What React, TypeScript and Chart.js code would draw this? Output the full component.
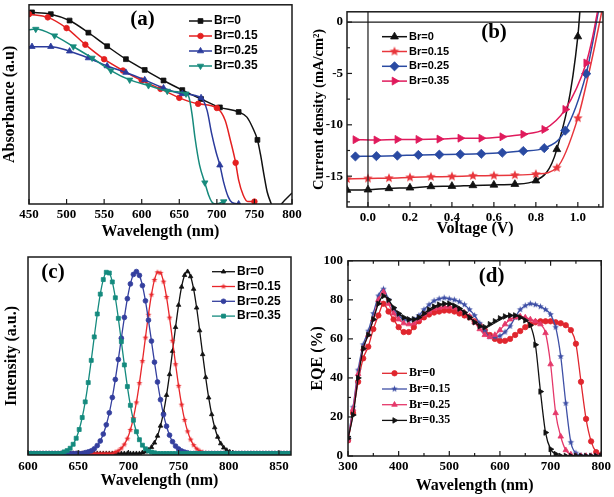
import React, { useEffect, useRef } from 'react';
import { Chart, registerables } from 'chart.js';
import { drawPoint } from 'chart.js/helpers';

Chart.register(...registerables);

const SERIF = '"Liberation Serif", "Times New Roman", serif';
const SANS = '"Liberation Sans", Arial, sans-serif';

const seriesLabels = ['Br=0', 'Br=0.15', 'Br=0.25', 'Br=0.35'];

// ---------- (a) Absorbance ----------
const absX_Br0 = [450, 454, 479, 504, 529, 554, 579, 604, 629, 654, 679, 704, 729, 740, 748, 754, 758, 763, 767, 772, 776, 782, 786, 800];
const absY_Br0 = [0.963, 0.962, 0.953, 0.921, 0.86, 0.792, 0.727, 0.673, 0.62, 0.572, 0.527, 0.485, 0.462, 0.436, 0.38, 0.322, 0.25, 0.14, 0.06, 0.005, -0.025, -0.025, 0.0, 0.055];
const absX_Br15 = [450, 475, 500, 525, 550, 575, 600, 625, 650, 675, 700, 711, 718, 725, 729, 735, 741, 750];
const absY_Br15 = [0.953, 0.937, 0.883, 0.8, 0.727, 0.67, 0.62, 0.578, 0.533, 0.503, 0.482, 0.42, 0.32, 0.207, 0.12, 0.045, 0.012, 0.012];
const absX_Br25 = [450, 454, 479, 504, 529, 554, 579, 604, 629, 654, 679, 687, 693, 699, 704, 709, 715, 720, 729];
const absY_Br25 = [0.79, 0.79, 0.79, 0.767, 0.733, 0.693, 0.66, 0.623, 0.582, 0.553, 0.533, 0.47, 0.355, 0.26, 0.195, 0.11, 0.037, 0.008, 0.0];
const absX_Br35 = [450, 459, 484, 509, 534, 559, 584, 609, 634, 659, 663, 667, 671, 677, 684, 689, 693, 698, 709, 713];
const absY_Br35 = [0.875, 0.878, 0.845, 0.79, 0.733, 0.67, 0.623, 0.595, 0.567, 0.553, 0.535, 0.45, 0.33, 0.195, 0.107, 0.045, 0.012, 0.0, 0.012, 0.02];
const absXTicks = [450, 500, 550, 600, 650, 700, 750, 800];

// ---------- (b) J-V ----------
const jvX_Br0 = [-0.1, 0, 0.1, 0.2, 0.3, 0.4, 0.5, 0.6, 0.7, 0.8, 0.9, 1.0, 1.02];
const jvY_Br0 = [-16.35, -16.32, -16.19, -16.13, -16.0, -15.97, -15.9, -15.85, -15.78, -15.44, -12.39, -1.41, 4];
const jvX_Br15 = [-0.1, 0, 0.1, 0.2, 0.3, 0.4, 0.5, 0.6, 0.7, 0.8, 0.9, 1.0, 1.05, 1.08, 1.11, 1.13];
const jvY_Br15 = [-15.28, -15.22, -15.19, -15.12, -15.06, -15.03, -14.97, -14.94, -14.9, -14.8, -14.18, -9.35, -5.2, -2.4, 0.6, 2.6];
const jvX_Br25 = [-0.06, 0.04, 0.14, 0.24, 0.34, 0.44, 0.54, 0.64, 0.74, 0.84, 0.94, 1.04, 1.07, 1.095, 1.12];
const jvY_Br25 = [-13.08, -13.05, -13.0, -12.93, -12.9, -12.87, -12.82, -12.72, -12.55, -12.27, -10.57, -5.02, -2.1, 0.7, 3.5];
const jvX_Br35 = [-0.06, 0.04, 0.14, 0.24, 0.34, 0.44, 0.54, 0.64, 0.74, 0.84, 0.94, 1.04, 1.07, 1.09, 1.11];
const jvY_Br35 = [-11.45, -11.48, -11.42, -11.42, -11.39, -11.3, -11.3, -11.17, -10.92, -10.45, -8.5, -3.98, -1.5, 0.6, 2.8];
const jvXTicks = [0, 0.2, 0.4, 0.6, 0.8, 1.0];
const jvYTicks = [-15, -10, -5, 0];

// ---------- (c) PL ----------
const plX = [
  600, 603, 606, 609, 612, 615, 618, 621, 624, 627,
  630, 633, 636, 639, 642, 645, 648, 651, 654, 657,
  660, 663, 666, 669, 672, 675, 678, 681, 684, 687,
  690, 693, 696, 699, 702, 705, 708, 711, 714, 717,
  720, 723, 726, 729, 732, 735, 738, 741, 744, 747,
  750, 753, 756, 759, 762, 765, 768, 771, 774, 777,
  780, 783, 786, 789, 792, 795, 798, 801, 804, 807,
  810, 813, 816, 819, 822, 825, 828, 831, 834, 837,
  840, 843, 846, 849, 852, 855, 858, 861,
];
const plY_Br0 = [
  0, 0, 0, 0, 0, 0, 0, 0, 0, 0,
  0, 0, 0, 0, 0, 0, 0, 0, 0, 0,
  0, 0, 0, 0, 0, 0, 0, 0, 0, 0,
  0, 0, 0, 0, 0, 0, 0, 0, 0.005, 0.01,
  0.019, 0.035, 0.059, 0.097, 0.152, 0.226, 0.321, 0.435, 0.563, 0.694,
  0.816, 0.916, 0.98, 1.0, 0.973, 0.904, 0.801, 0.676, 0.545, 0.419,
  0.307, 0.215, 0.143, 0.091, 0.055, 0.032, 0.018, 0.009, 0.005, 0,
  0, 0, 0, 0, 0, 0, 0, 0, 0, 0,
  0, 0, 0, 0, 0, 0, 0, 0,
];
const plY_Br15 = [
  0, 0, 0, 0, 0, 0, 0, 0, 0, 0,
  0, 0, 0, 0, 0, 0, 0, 0, 0, 0,
  0, 0, 0, 0, 0, 0, 0, 0, 0, 0.008,
  0.016, 0.029, 0.05, 0.082, 0.13, 0.195, 0.281, 0.387, 0.508, 0.637,
  0.763, 0.873, 0.954, 0.996, 0.993, 0.945, 0.86, 0.747, 0.62, 0.491,
  0.372, 0.269, 0.185, 0.122, 0.077, 0.046, 0.027, 0.015, 0.008, 0.004,
  0, 0, 0, 0, 0, 0, 0, 0, 0, 0,
  0, 0, 0, 0, 0, 0, 0, 0, 0, 0,
  0, 0, 0, 0, 0, 0, 0, 0,
];
const plY_Br25 = [
  0, 0, 0, 0, 0, 0, 0, 0, 0, 0,
  0, 0, 0, 0, 0, 0, 0, 0, 0, 0.005,
  0.009, 0.015, 0.026, 0.044, 0.069, 0.107, 0.158, 0.224, 0.308, 0.407,
  0.517, 0.634, 0.748, 0.851, 0.932, 0.984, 1.0, 0.979, 0.923, 0.839,
  0.733, 0.618, 0.502, 0.393, 0.296, 0.214, 0.15, 0.101, 0.065, 0.041,
  0.025, 0.014, 0.008, 0.004, 0, 0, 0, 0, 0, 0,
  0, 0, 0, 0, 0, 0, 0, 0, 0, 0,
  0, 0, 0, 0, 0, 0, 0, 0, 0, 0,
  0, 0, 0, 0, 0, 0, 0, 0,
];
const plY_Br35 = [
  0, 0, 0, 0, 0, 0, 0, 0, 0, 0,
  0, 0, 0.009, 0.016, 0.029, 0.051, 0.084, 0.132, 0.198, 0.284,
  0.39, 0.512, 0.641, 0.767, 0.876, 0.956, 0.996, 0.992, 0.943, 0.856,
  0.743, 0.615, 0.487, 0.368, 0.265, 0.183, 0.12, 0.076, 0.046, 0.026,
  0.014, 0.008, 0.004, 0, 0, 0, 0, 0, 0, 0,
  0, 0, 0, 0, 0, 0, 0, 0, 0, 0,
  0, 0, 0, 0, 0, 0, 0, 0, 0, 0,
  0, 0, 0, 0, 0, 0, 0, 0, 0, 0,
  0, 0, 0, 0, 0, 0, 0, 0,
];
const plXTicks = [600, 650, 700, 750, 800, 850];

// ---------- (d) EQE ----------
const eqeX = [
  300, 310, 320, 330, 340, 350, 360, 370, 380, 390,
  400, 410, 420, 430, 440, 450, 460, 470, 480, 490,
  500, 510, 520, 530, 540, 550, 560, 570, 580, 590,
  600, 610, 620, 630, 640, 650, 660, 670, 680, 690,
  700, 710, 720, 730, 740, 750, 760, 770, 780, 790,
  800,
];
const eqe_Br0 = [
  8, 22, 38, 50, 56, 65, 72, 78, 74, 70,
  66, 63.5, 63.5, 66, 69, 71, 72.5, 73.5, 74, 74.5,
  74.5, 74, 73, 72, 71, 69, 67, 64.5, 62, 60,
  59, 59, 60, 62, 64, 66, 67.5, 68.5, 69, 69,
  69, 68.5, 68, 67, 64.5, 57.5, 38, 19, 7.5, 2,
  0.5,
];
const eqe_Br15 = [
  9, 25, 44, 57, 64, 73, 82, 85.5, 80, 75,
  72, 70, 69.5, 70, 72, 75, 77.5, 79.5, 80.5, 81,
  80.5, 80, 79, 77.5, 75, 72, 68, 64, 61, 61,
  61.5, 63.5, 66.5, 71, 75, 77, 78, 77.5, 76.5, 75,
  72.5, 66, 51, 27, 7, 1.5, 0.3, 0, 0, 0,
  0,
];
const eqe_Br25 = [
  8, 24, 42, 55, 62, 70, 80, 84, 78, 73,
  70, 68, 67.5, 68, 70, 72.5, 74, 75.5, 76, 76.5,
  76.5, 76, 75, 73.5, 71.5, 68.5, 65, 62, 61, 62,
  64.5, 67.5, 70, 71, 71.5, 71, 70, 69, 67.5, 63,
  47, 22, 10, 3, 0.8, 0, 0, 0, 0, 0,
  0,
];
const eqe_Br35 = [
  9, 21, 40, 55, 62, 70, 78, 82, 80, 76,
  73, 71, 70, 70, 71, 73, 75, 76.5, 77.5, 78,
  78, 77, 75.5, 73.5, 71, 68.5, 66.5, 66, 67.5, 69,
  70.5, 71.5, 72, 72, 71, 69.5, 67, 57, 33, 12,
  3.5, 1, 0, 0, 0, 0, 0, 0, 0, 0,
  0,
];
const eqeXTicks = [300, 400, 500, 600, 700, 800];
const eqeYTicks = [0, 20, 40, 60, 80, 100];

// ---------- helpers ----------
const onGrid = (x: number, start: number, step: number) => {
  const k = (x - start) / step;
  return Math.abs(k - Math.round(k)) < 1e-4;
};

function starCanvas(color: string, r: number) {
  const s = Math.ceil(r * 2 + 2);
  const c = document.createElement('canvas');
  c.width = s;
  c.height = s;
  const g = c.getContext('2d')!;
  g.translate(s / 2, s / 2);
  g.beginPath();
  for (let k = 0; k < 10; k++) {
    const rad = k % 2 === 0 ? r : r * 0.45;
    const a = -Math.PI / 2 + (k * Math.PI) / 5;
    g.lineTo(rad * Math.cos(a), rad * Math.sin(a));
  }
  g.closePath();
  g.fillStyle = color;
  g.fill();
  return c;
}

type Series = {
  xs: number[];
  ys: number[];
  color: string;
  style: any;
  rot?: number;
  r: number;
  grid?: [number, number];
};

type Panel = {
  box: [number, number, number, number];
  area: [number, number, number, number];
  x: { min: number; max: number; ticks: number[]; fmt?: (v: number) => string; title: string; pad: number };
  y: { min: number; max: number; ticks: number[]; title: string; titleSize: number; pad: number };
  series: Series[];
  lineWidth: number;
  marks: { bottom?: [number[], number[]]; left?: [number[], number[]]; top?: [number[], number[]] };
  zero?: boolean;
  legend: { x: number; y: number; dy: number; len: number; font: string; gap: number };
  tag: { text: string; x: number; y: number };
};

const boxes: [number, number, number, number][] = [
  [0, 0, 307, 241],
  [311, 0, 303, 238],
  [2, 250, 305, 240],
  [308, 248, 306, 247],
];

const decoPlugin = {
  id: 'deco',
  afterDatasetsDraw(chart: any, _args: any, o: any) {
    const { ctx, chartArea: a, scales } = chart;
    const xs = scales.x;
    const ys = scales.y;
    ctx.save();
    const seg = (x1: number, y1: number, x2: number, y2: number) => {
      ctx.beginPath();
      ctx.moveTo(x1, y1);
      ctx.lineTo(x2, y2);
      ctx.stroke();
    };
    ctx.strokeStyle = '#1a1a1a';
    if (o.zero) {
      ctx.lineWidth = 1.2;
      const px = xs.getPixelForValue(0);
      const py = ys.getPixelForValue(0);
      seg(px, a.top, px, a.bottom);
      seg(a.left, py, a.right, py);
    }
    ctx.lineWidth = 1.5;
    ctx.strokeRect(a.left, a.top, a.right - a.left, a.bottom - a.top);
    ctx.lineWidth = 1.2;
    const m = o.marks || {};
    if (m.bottom) {
      m.bottom[0].forEach((v: number) => { const p = xs.getPixelForValue(v); seg(p, a.bottom, p, a.bottom - 5); });
      m.bottom[1].forEach((v: number) => { const p = xs.getPixelForValue(v); seg(p, a.bottom, p, a.bottom - 3); });
    }
    if (m.top) {
      m.top[0].forEach((v: number) => { const p = xs.getPixelForValue(v); seg(p, a.top, p, a.top + 5); });
      m.top[1].forEach((v: number) => { const p = xs.getPixelForValue(v); seg(p, a.top, p, a.top + 3); });
    }
    if (m.left) {
      m.left[0].forEach((v: number) => { const p = ys.getPixelForValue(v); seg(a.left, p, a.left + 5, p); });
      m.left[1].forEach((v: number) => { const p = ys.getPixelForValue(v); seg(a.left, p, a.left + 3, p); });
    }
    // legend
    const L = o.legend;
    chart.data.datasets.forEach((ds: any, i: number) => {
      const yy = L.y + i * L.dy;
      ctx.strokeStyle = ds.borderColor;
      ctx.lineWidth = ds.borderWidth;
      seg(L.x, yy, L.x + L.len, yy);
      ctx.fillStyle = ds.backgroundColor;
      ctx.strokeStyle = ds.borderColor;
      ctx.lineWidth = 0.8;
      drawPoint(ctx, { pointStyle: ds.pointStyle, rotation: ds.pointRotation || 0, radius: o.radii[i], borderWidth: 0.8 } as any, L.x + L.len / 2, yy);
      ctx.fillStyle = '#000';
      ctx.font = L.font;
      ctx.textAlign = 'left';
      ctx.textBaseline = 'middle';
      ctx.fillText(ds.label, L.x + L.len + L.gap, yy);
    });
    // panel tag
    ctx.fillStyle = '#000';
    ctx.font = `bold 21px ${SERIF}`;
    ctx.textAlign = 'center';
    ctx.textBaseline = 'middle';
    ctx.fillText(o.tag.text, o.tag.x, o.tag.y);
    ctx.restore();
  },
};

function makePanels(): Panel[] {
  const black = '#111111';
  return [
    {
      box: boxes[0],
      area: [29, 4, 292, 204],
      x: { min: 450, max: 800, ticks: absXTicks, title: 'Wavelength (nm)', pad: 3 },
      y: { min: 0, max: 1.0, ticks: [], title: 'Absorbance (a.u)', titleSize: 16, pad: 4 },
      series: [
        { xs: absX_Br0, ys: absY_Br0, color: black, style: 'rect', r: 3.4, grid: [454, 25] },
        { xs: absX_Br15, ys: absY_Br15, color: '#e42020', style: 'circle', r: 2.8, grid: [450, 25] },
        { xs: absX_Br25, ys: absY_Br25, color: '#2b3b9c', style: 'triangle', r: 3.6, grid: [454, 25] },
        { xs: absX_Br35, ys: absY_Br35, color: '#168a7c', style: 'triangle', rot: 180, r: 3.6, grid: [459, 25] },
      ],
      lineWidth: 1.5,
      marks: { bottom: [absXTicks, []] },
      legend: { x: 189, y: 21, dy: 15, len: 23, font: `bold 12px ${SANS}`, gap: 2 },
      tag: { text: '(a)', x: 142.5, y: 20 },
    },
    {
      box: boxes[1],
      area: [347, 4, 603, 207],
      x: { min: -0.1, max: 1.12, ticks: jvXTicks, fmt: (v) => v.toFixed(1), title: 'Voltage (V)', pad: 3 },
      y: { min: -18, max: 1, ticks: jvYTicks, title: 'Current density (mA/cm²)', titleSize: 14.5, pad: 4 },
      series: [
        { xs: jvX_Br0, ys: jvY_Br0, color: black, style: 'triangle', r: 4.5, grid: [-0.1, 0.1] },
        { xs: jvX_Br15, ys: jvY_Br15, color: '#e8363c', style: starCanvas('#e8363c', 5), r: 5, grid: [-0.1, 0.1] },
        { xs: jvX_Br25, ys: jvY_Br25, color: '#2a4aa2', style: 'rectRot', r: 4.6, grid: [-0.06, 0.1] },
        { xs: jvX_Br35, ys: jvY_Br35, color: '#e01a5c', style: 'triangle', rot: 90, r: 4.6, grid: [-0.06, 0.1] },
      ],
      lineWidth: 1.5,
      marks: { bottom: [jvXTicks, [0.1, 0.3, 0.5, 0.7, 0.9, 1.1]], left: [jvYTicks, [-17.5, -12.5, -7.5, -2.5]] },
      zero: true,
      legend: { x: 382, y: 36.7, dy: 14.8, len: 25, font: `bold 11px ${SANS}`, gap: 2 },
      tag: { text: '(b)', x: 494, y: 33 },
    },
    {
      box: boxes[2],
      area: [28, 257, 291, 455],
      x: { min: 600, max: 862, ticks: plXTicks, title: 'Wavelength (nm)', pad: 4 },
      y: { min: -0.008, max: 1.08, ticks: [], title: 'Intensity (a.u.)', titleSize: 16, pad: 4 },
      series: [
        { xs: plX, ys: plY_Br0, color: black, style: 'triangle', r: 2.6 },
        { xs: plX, ys: plY_Br15, color: '#e8262a', style: starCanvas('#e8262a', 3), r: 3 },
        { xs: plX, ys: plY_Br25, color: '#343f9e', style: 'circle', r: 2.4 },
        { xs: plX, ys: plY_Br35, color: '#148a7e', style: 'rect', r: 2.8 },
      ],
      lineWidth: 1.3,
      marks: { bottom: [plXTicks, []] },
      legend: { x: 212, y: 271.7, dy: 14.8, len: 23, font: `bold 12px ${SANS}`, gap: 2 },
      tag: { text: '(c)', x: 53, y: 273 },
    },
    {
      box: boxes[3],
      area: [348, 257, 602, 456],
      x: { min: 300, max: 800, ticks: eqeXTicks, title: 'Wavelength (nm)', pad: 3 },
      y: { min: 0, max: 100, ticks: eqeYTicks, title: 'EQE (%)', titleSize: 16, pad: 5 },
      series: [
        { xs: eqeX, ys: eqe_Br0, color: '#e0262e', style: 'circle', r: 2.7 },
        { xs: eqeX, ys: eqe_Br15, color: '#3f50a6', style: starCanvas('#3f50a6', 3.4), r: 3.4 },
        { xs: eqeX, ys: eqe_Br25, color: '#e5386a', style: 'triangle', r: 3.2 },
        { xs: eqeX, ys: eqe_Br35, color: black, style: 'triangle', rot: 90, r: 3.2 },
      ],
      lineWidth: 1.3,
      marks: {
        bottom: [eqeXTicks, [350, 450, 550, 650, 750]],
        top: [eqeXTicks, [350, 450, 550, 650, 750]],
        left: [eqeYTicks, [10, 30, 50, 70, 90]],
      },
      legend: { x: 382, y: 373.3, dy: 15.7, len: 25, font: `bold 12px ${SERIF}`, gap: 2 },
      tag: { text: '(d)', x: 491.7, y: 276.7 },
    },
  ];
}

function build(canvas: HTMLCanvasElement, p: Panel) {
  const [cl, ct, cw, ch] = p.box;
  const [L, T, R, B] = p.area;
  canvas.width = cw;
  canvas.height = ch;
  const datasets = p.series.map((s, i) => ({
    label: seriesLabels[i],
    data: s.xs.map((x, k) => ({ x, y: s.ys[k] })),
    borderColor: s.color,
    backgroundColor: s.color,
    borderWidth: p.lineWidth,
    pointStyle: s.style,
    pointRotation: s.rot || 0,
    pointRadius: s.grid ? (c: any) => (c.raw && onGrid(c.raw.x, s.grid![0], s.grid![1]) ? s.r : 0) : s.r,
    pointBorderWidth: 0.8,
    pointBackgroundColor: s.color,
    pointBorderColor: s.color,
    cubicInterpolationMode: 'monotone' as const,
    order: p.series.length - 1 - i,
  }));
  const tickFont = { family: SERIF, size: 13, weight: 'bold' as const };
  return new Chart(canvas, {
    type: 'line',
    data: { datasets },
    options: {
      responsive: false,
      animation: false,
      events: [],
      layout: { padding: { left: 0, top: T - ct, right: cl + cw - R, bottom: 0 } },
      plugins: {
        legend: { display: false },
        tooltip: { enabled: false },
        deco: {
          marks: p.marks,
          zero: p.zero,
          radii: p.series.map((s) => s.r),
          legend: { ...p.legend, x: p.legend.x - cl, y: p.legend.y - ct },
          tag: { text: p.tag.text, x: p.tag.x - cl, y: p.tag.y - ct },
        },
      } as any,
      scales: {
        x: {
          type: 'linear',
          min: p.x.min,
          max: p.x.max,
          grid: { display: false, drawTicks: false },
          border: { display: false },
          afterBuildTicks: (s: any) => { s.ticks = p.x.ticks.map((v) => ({ value: v })); },
          ticks: {
            autoSkip: false,
            maxRotation: 0,
            padding: p.x.pad,
            color: '#000',
            font: tickFont,
            callback: (v: any) => (p.x.fmt ? p.x.fmt(Number(v)) : String(v)),
          },
          title: { display: true, text: p.x.title, color: '#000', padding: 0, font: { family: SERIF, size: 16, weight: 'bold' } },
          afterFit: (s: any) => { s.height = ct + ch - B; },
        },
        y: {
          type: 'linear',
          min: p.y.min,
          max: p.y.max,
          grid: { display: false, drawTicks: false },
          border: { display: false },
          afterBuildTicks: (s: any) => { s.ticks = p.y.ticks.map((v) => ({ value: v })); },
          ticks: {
            display: p.y.ticks.length > 0,
            autoSkip: false,
            padding: p.y.pad,
            color: '#000',
            font: tickFont,
            callback: (v: any) => String(v),
          },
          title: { display: true, text: p.y.title, color: '#000', padding: 0, font: { family: SERIF, size: p.y.titleSize, weight: 'bold' } },
          afterFit: (s: any) => { s.width = L - cl; },
        },
      },
    },
    plugins: [decoPlugin as any],
  });
}

export default function App() {
  const r0 = useRef<HTMLCanvasElement>(null);
  const r1 = useRef<HTMLCanvasElement>(null);
  const r2 = useRef<HTMLCanvasElement>(null);
  const r3 = useRef<HTMLCanvasElement>(null);
  const refs = [r0, r1, r2, r3];
  useEffect(() => {
    const panels = makePanels();
    const charts = panels.map((p, i) => build(refs[i].current!, p));
    return () => charts.forEach((c) => c.destroy());
  }, []);
  return (
    <div style={{ position: 'absolute', left: 0, top: 0, width: 614, height: 497, background: '#fff', overflow: 'hidden' }}>
      {boxes.map((b, i) => (
        <canvas
          key={i}
          ref={refs[i]}
          style={{ position: 'absolute', left: b[0], top: b[1], width: b[2], height: b[3] }}
        />
      ))}
    </div>
  );
}
